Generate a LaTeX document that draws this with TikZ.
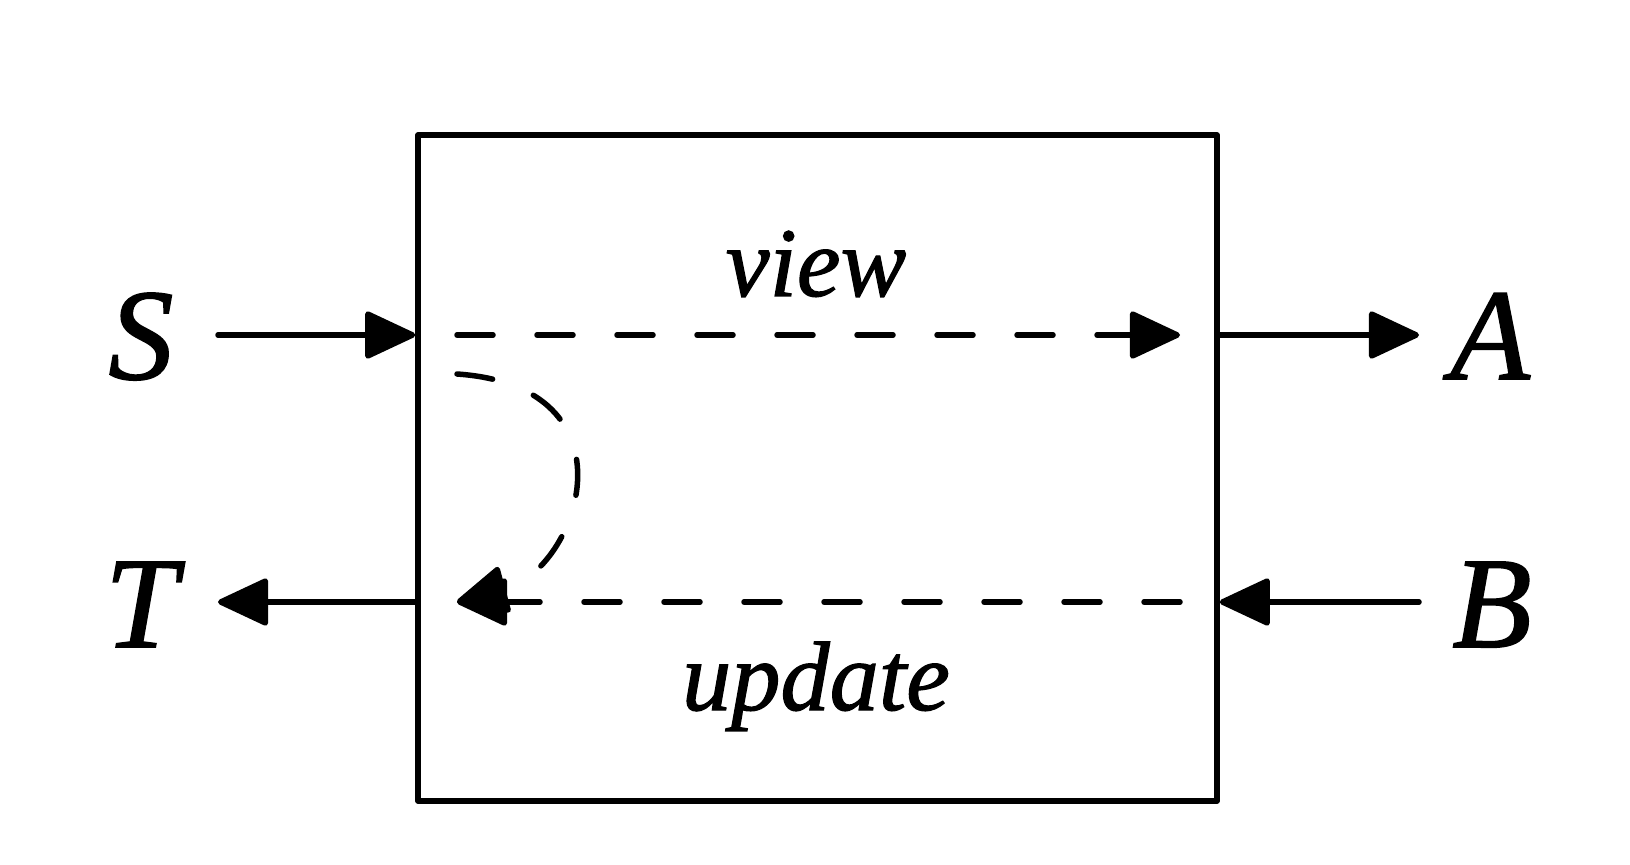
\documentclass[tikz,border=0pt]{standalone}
\usepackage{fontspec}
\setmainfont[ItalicFeatures={FakeBold=1.2}]{Liberation Serif}
\usetikzlibrary{arrows.meta}

\tikzset{
  lbl/.style={font=\fontsize{74}{80}\selectfont\itshape, inner sep=0pt, anchor=base},
  word/.style={font=\fontsize{56}{60}\selectfont\itshape, inner sep=0pt, anchor=base},
  flow/.style={line width=0.11cm, line cap=round, -{Triangle[length=1.08cm,width=0.98cm,round]}},
  dashflow/.style={flow, dash pattern=on 0.72cm off 0.88cm}
}

\begin{document}
\begin{tikzpicture}
  \useasboundingbox (0,0) rectangle (32.6,17.28);

  % the box
  \node[draw, line width=0.11cm, line join=round, minimum width=15.98cm, minimum height=13.32cm, inner sep=0pt] (box) at (16.35,7.92) {};

  % outside labels
  \node[lbl] (S) at (2.82,9.7) {S};
  \node[lbl] (T) at (2.82,4.34) {T};
  \node[lbl] (A) at (29.8,9.7) {A};
  \node[lbl] (B) at (29.84,4.34) {B};

  % end points
  \coordinate (sOut) at (4.36,10.58);
  \coordinate (tIn) at (4.36,5.24);
  \coordinate (aIn) at (28.38,10.58);
  \coordinate (bOut) at (28.38,5.24);
  \coordinate (boxW1) at (box.west |- sOut);
  \coordinate (boxW2) at (box.west |- tIn);
  \coordinate (boxE1) at (box.east |- aIn);
  \coordinate (boxE2) at (box.east |- bOut);
  \coordinate (viewL) at (9.14,10.58);
  \coordinate (viewR) at (23.6,10.58);
  \coordinate (updR) at (23.6,5.24);
  \coordinate (updL) at (9.14,5.24);
  \coordinate (loopTop) at (9.14,9.8);

  % connectors
  \draw[flow] (sOut) -- (boxW1);
  \draw[flow] (boxE1) -- (aIn);
  \draw[flow] (bOut) -- (boxE2);
  \draw[flow] (boxW2) -- (tIn);
  \draw[dashflow] (viewL) -- (viewR);
  \draw[dashflow] (updR) -- (updL);
  \draw[dashflow] (loopTop) .. controls (12.8,9.55) and (11.6,5.9) .. (updL);

  % inside labels
  \node[word] (view) at (16.32,11.36) {view};
  \node[word] (update) at (16.32,3.08) {update};
\end{tikzpicture}
\end{document}
